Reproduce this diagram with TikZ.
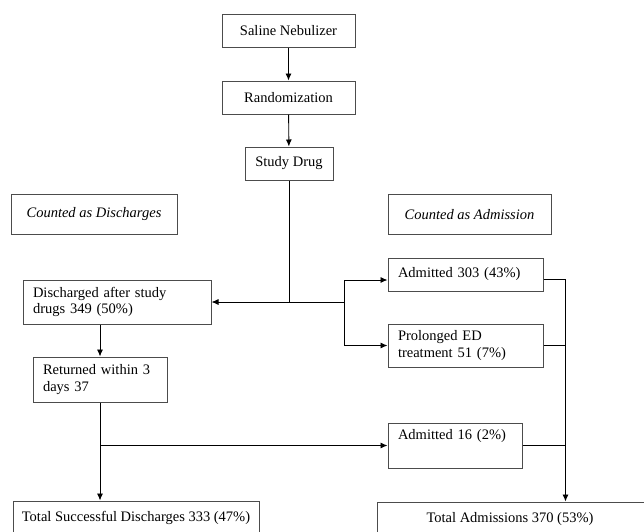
\documentclass[tikz,border=0pt]{standalone}
\usepackage{fontspec}
\setmainfont{Liberation Serif}
\usetikzlibrary{arrows.meta}
\newcommand\nohyph{\hyphenpenalty=10000\relax\exhyphenpenalty=10000\relax}
\begin{document}
\begin{tikzpicture}[x=1pt,y=-1pt,
  font=\fontsize{14.5}{16.5}\selectfont\nohyph,
  boxc/.style={draw=black!70, line width=1pt, rectangle, inner sep=0pt, align=center},
  boxl/.style={draw=black!70, line width=1pt, rectangle, inner xsep=10pt, inner ysep=0pt, align=left},
  conn/.style={line width=0.9pt, black},
  arr/.style={conn, -{Latex[length=7pt,width=6pt]}}
]
\useasboundingbox (0,0) rectangle (644,531);
\clip (0,0) rectangle (644,531);
\fill[white] (0,0) rectangle (644,531);

% top chain
\node[boxc, minimum width=133, minimum height=33] (sal) at (288.5,30.5) {Saline Nebulizer};
\node[boxc, minimum width=133, minimum height=33] (rand) at (288.5,97.5) {Randomization};
\node[boxc, minimum width=88, minimum height=33] (drug) at (289,163.5) {Study Drug};

% category labels
\node[boxc, minimum width=166, minimum height=40] (cdis) at (94,214.5) {\itshape Counted as Discharges};
\node[boxc, minimum width=163, minimum height=40] (cadm) at (469.5,214.5) {\itshape Counted as Admission};

% left column
\node[boxl, text width=168, minimum height=44] (dis) at (117,302) {Discharged after study drugs 349 (50\%)};
\node[boxl, text width=114, minimum height=45] (ret) at (100,379.5) {Returned within 3 days 37};

% right column
\node[boxl, text width=135, minimum height=33] (adm1) at (465.5,274.5) {Admitted 303 (43\%)};
\node[boxl, text width=135, minimum height=43] (pro) at (465.5,345.5) {Prolonged ED\\treatment 51 (7\%)};
\node[boxl, text width=114, minimum height=45] (adm2) at (455,445.5) {Admitted 16 (2\%)\\\strut};

% totals
\node[boxc, minimum width=246, minimum height=34] (tsd) at (136,518) {Total Successful Discharges 333 (47\%)};
\node[boxc, minimum width=300, minimum height=34] (tad) at (527,519) {\hspace*{-34pt}Total Admissions 370 (53\%)};

% connectors
\draw[arr] (sal) -- (rand);
\draw[arr] (rand) -- (drug);
\draw[arr] (drug.south) |- (dis.east);
\coordinate (br) at (344,302);
\draw[conn] (drug.south |- dis.east) -- (br);
\draw[arr] (br) |- ([yshift=-5.5pt]adm1.west);
\draw[arr] (br) |- (pro.west);

\draw[conn] ([yshift=-4.5pt]adm1.east) -- ++(22,0) coordinate (m1);
\draw[conn] (pro.east) -- (pro.east -| m1);
\draw[conn] (adm2.east) -- (adm2.east -| m1);
\draw[arr] (m1) -- (m1 |- tad.north);

\draw[arr] (dis.south -| ret.north) -- (ret.north);
\draw[arr] (ret.south) -- (ret.south |- tsd.north);
\draw[arr] (ret.south |- adm2.west) -- (adm2.west);
\end{tikzpicture}
\end{document}
